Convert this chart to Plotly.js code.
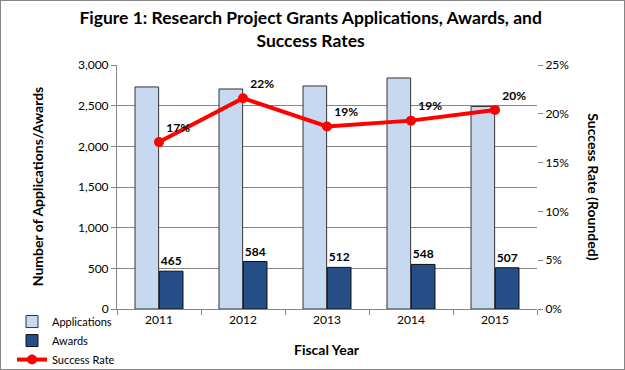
<!DOCTYPE html>
<html><head><meta charset="utf-8">
<script src="https://cdn.plot.ly/plotly-3.0.1.min.js"></script>
<style>html,body{margin:0;padding:0;background:#fff}#c{width:623px;height:368px;border:1px solid #868686}</style>
</head><body><div id="c"></div>
<script>
const years = ['2011','2012','2013','2014','2015'];
const applications = [2730, 2705, 2742, 2840, 2490];
const awards = [465, 584, 512, 548, 507];
const successRate = [0.171, 0.216, 0.187, 0.193, 0.204];

const F = 'Lato, Roboto, Arial, sans-serif';
const data = [
  {type:'bar', name:'Applications', x:years, y:applications,
   marker:{color:'#C6D9F1', line:{color:'#333', width:1}}, hoverinfo:'none'},
  {type:'bar', name:'Awards', x:years, y:awards, text:awards.map(String), textposition:'outside',
   textfont:{family:F, size:12, color:'#000', weight:'bold'}, cliponaxis:false,
   marker:{color:'#254E86', line:{color:'#111', width:1}}, hoverinfo:'none'},
  {type:'scatter', mode:'lines+markers+text', name:'Success Rate', x:years, y:successRate, yaxis:'y2',
   texttemplate:'%{y:.0%}', textposition:'top right', textfont:{family:F, size:12, color:'#000', weight:'bold'},
   line:{color:'#FF0000', width:4}, marker:{color:'#FF0000', size:10}, cliponaxis:false, hoverinfo:'none'}
];
const layout = {
  width:623, height:368,
  margin:{l:116, r:87, t:64, b:60, autoexpand:false},
  paper_bgcolor:'#fff', plot_bgcolor:'#fff',
  font:{family:F, size:12, color:'#000'},
  barmode:'group', bargap:0.42, bargroupgap:0.03,
  showlegend:true,
  legend:{x:-0.25, y:0.008, xanchor:'left', yanchor:'top', orientation:'v', font:{family:F, size:11},
          tracegroupgap:0, itemwidth:30, bgcolor:'rgba(0,0,0,0)'},
  title:{text:'<b>Figure 1: Research Project Grants Applications, Awards, and<br>Success Rates</b>',
         font:{family:F, size:17.5, color:'#000'}, x:0.497, xanchor:'center', y:0.937, yanchor:'top'},
  xaxis:{type:'category', showline:true, linecolor:'#868686', ticks:'outside', tickson:'boundaries',
         ticklen:5, tickcolor:'#868686', showgrid:false, tickfont:{size:12}},
  yaxis:{range:[0,3000], dtick:500, tickformat:',d', showline:true, linecolor:'#868686', ticks:'outside',
         ticklen:5, tickcolor:'#868686', gridcolor:'#868686', gridwidth:1, zeroline:false, tickfont:{size:12}},
  yaxis2:{range:[0,0.25], dtick:0.05, tickformat:'.0%', overlaying:'y', side:'right', showgrid:false,
          showline:false, ticks:'outside', ticklen:5, tickcolor:'#868686', zeroline:false, tickfont:{size:12}},
  annotations:[
    {text:'<b>Number of Applications/Awards</b>', xref:'paper', yref:'paper', x:-0.19, y:0.5,
     textangle:-90, showarrow:false, font:{family:F, size:14}, xanchor:'center', yanchor:'middle'},
    {text:'<b>Success Rate (Rounded)</b>', xref:'paper', yref:'paper', x:1.135, y:0.5,
     textangle:90, showarrow:false, font:{family:F, size:14}, xanchor:'center', yanchor:'middle'},
    {text:'<b>Fiscal Year</b>', xref:'paper', yref:'paper', x:0.5, y:-0.165,
     showarrow:false, font:{family:F, size:14}, xanchor:'center', yanchor:'middle'}
  ]
};
Plotly.newPlot('c', data, layout, {displayModeBar:false, staticPlot:true});
</script></body></html>
